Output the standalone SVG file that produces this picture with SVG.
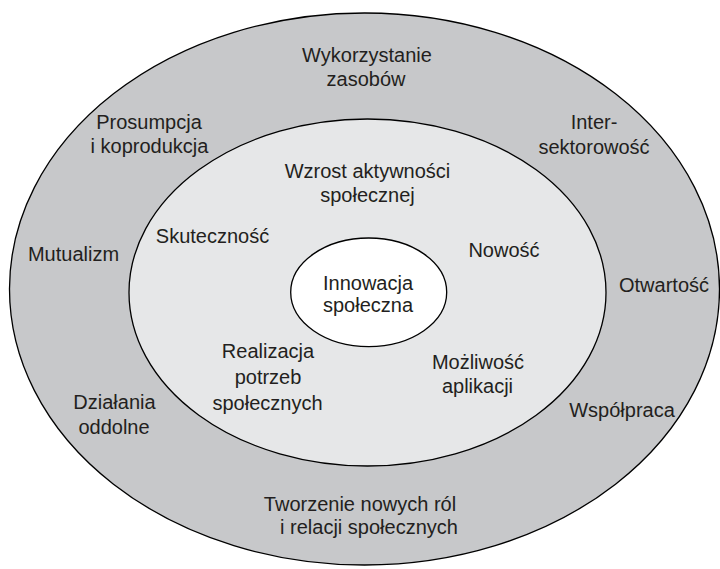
<svg xmlns="http://www.w3.org/2000/svg" width="720" height="569" viewBox="0 0 720 569">
<style>
.ring{stroke:#000;stroke-width:1.3}
.outer{fill:#c7c8ca}
.middle{fill:#e6e7e8}
.inner{fill:#fff}
text{font-family:"Liberation Sans",Arial,sans-serif;font-size:20px;fill:#231f20;text-anchor:middle}
</style>
<rect width="720" height="569" fill="#fff"/>
<g id="outer-ring"><ellipse class="ring outer" cx="364.5" cy="289" rx="355" ry="276"/></g>
<g id="middle-ring"><ellipse class="ring middle" cx="367.5" cy="292.5" rx="238.5" ry="173.5"/></g>
<g id="core"><ellipse class="ring inner" cx="368.7" cy="292.3" rx="78" ry="54.3"/>
<text x="368" y="290">Innowacja</text><text x="368" y="312">społeczna</text></g>
<g id="connectors"/>
<g id="wykorzystanie"><text x="367" y="62">Wykorzystanie</text><text x="366" y="86">zasobów</text></g>
<g id="prosumpcja"><text x="149" y="129">Prosumpcja</text><text x="149.5" y="153">i koprodukcja</text></g>
<g id="intersektorowosc"><text x="594" y="128.5">Inter-</text><text x="594" y="153.5">sektorowość</text></g>
<g id="mutualizm"><text x="73.5" y="260.5">Mutualizm</text></g>
<g id="otwartosc"><text x="664" y="291.5">Otwartość</text></g>
<g id="dzialania"><text x="114.5" y="408.5">Działania</text><text x="114" y="433.5">oddolne</text></g>
<g id="wspolpraca"><text x="622" y="416.5">Współpraca</text></g>
<g id="tworzenie"><text x="360" y="510.5">Tworzenie nowych ról</text><text x="369" y="533.5">i relacji społecznych</text></g>
<g id="wzrost"><text x="367.5" y="177.5">Wzrost aktywności</text><text x="367.5" y="201.5">społecznej</text></g>
<g id="skutecznosc"><text x="212.5" y="242.5">Skuteczność</text></g>
<g id="nowosc"><text x="504" y="256.5">Nowość</text></g>
<g id="realizacja"><text x="268" y="358">Realizacja</text><text x="268" y="384">potrzeb</text><text x="267.5" y="410">społecznych</text></g>
<g id="mozliwosc"><text x="478" y="368.5">Możliwość</text><text x="477.5" y="392.5">aplikacji</text></g>
</svg>
